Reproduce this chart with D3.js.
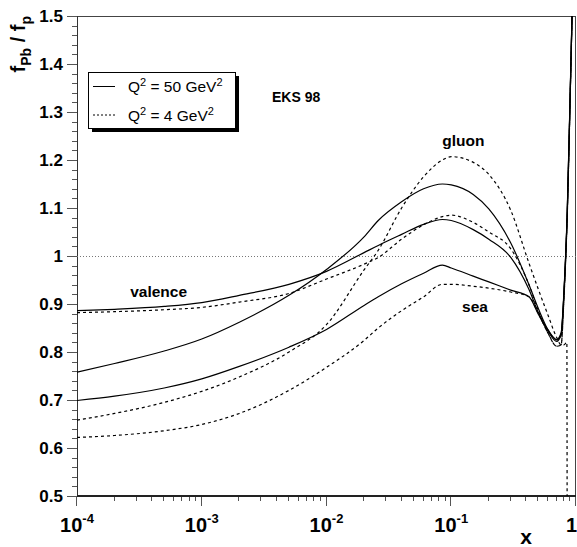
<!DOCTYPE html>
<html><head><meta charset="utf-8">
<script src="https://cdn.jsdelivr.net/npm/d3@7"></script>
<style>body{margin:0;background:#fff}svg{display:block}text{font-family:"Liberation Sans",Arial,Helvetica,sans-serif}</style>
</head><body>
<svg id="c" width="577" height="547"></svg>
<script>
// ---- data ----
const xGrid = [1e-4,2e-4,5e-4,1e-3,2e-3,5e-3,0.01,0.02,0.026,0.04,0.06,0.085,0.1,0.15,0.2,0.3,0.42,0.5,0.6,0.7,0.76,0.8,0.845,0.85,0.9,0.95];
const valenceQ50 = [0.886,0.889,0.895,0.903,0.918,0.941,0.968,1.007,1.022,1.045,1.066,1.076,1.074,1.055,1.035,0.997,0.93,0.882,0.845,0.826,0.84,0.925,1.07,1.09,1.35,1.61];
const valenceQ4  = [0.882,0.884,0.888,0.893,0.904,0.922,0.952,0.983,0.997,1.035,1.065,1.082,1.085,1.07,1.05,1.015,0.94,0.885,0.838,0.812,0.815,0.91,1.06,1.08,1.34,1.60];
const gluonQ50   = [0.758,0.776,0.802,0.827,0.862,0.918,0.972,1.04,1.074,1.113,1.14,1.15,1.148,1.128,1.098,1.027,0.94,0.89,0.845,0.825,0.835,0.92,1.065,1.085,1.345,1.605];
const gluonQ4    = [0.658,0.672,0.695,0.718,0.748,0.80,0.857,0.971,1.012,1.10,1.165,1.20,1.207,1.195,1.17,1.095,0.985,0.93,0.875,0.83,0.815,0.815,0.82,0.3,null,null];
const seaQ50     = [0.699,0.708,0.725,0.744,0.77,0.81,0.847,0.897,0.915,0.942,0.964,0.981,0.975,0.958,0.946,0.929,0.915,0.878,0.842,0.822,0.837,0.92,1.065,1.085,1.345,1.605];
const seaQ4      = [0.622,0.626,0.636,0.649,0.672,0.72,0.768,0.824,0.85,0.886,0.915,0.941,0.941,0.937,0.933,0.925,0.915,0.88,0.838,0.812,0.815,0.91,1.06,1.08,1.34,1.60];
const seriesList = [
  {name:"valence", q:50, v:valenceQ50}, {name:"valence", q:4, v:valenceQ4},
  {name:"gluon", q:50, v:gluonQ50}, {name:"gluon", q:4, v:gluonQ4},
  {name:"sea", q:50, v:seaQ50}, {name:"sea", q:4, v:seaQ4}
];
const yMajor = [0.5,0.6,0.7,0.8,0.9,1.0,1.1,1.2,1.3,1.4,1.5];
const yLabels = ["0.5","0.6","0.7","0.8","0.9","1","1.1","1.2","1.3","1.4","1.5"];
const xMajor = [1e-4,1e-3,1e-2,1e-1,1];
const xExp = ["-4","-3","-2","-1",""];
const legendItems = [{q:"50", dash:null},{q:"4", dash:"2,2"}];
const curveLabels = [{t:"gluon",x:0.0847,y:1.229},{t:"valence",x:2.67e-4,y:0.915},{t:"sea",x:0.122,y:0.884}];

// ---- layout ----
const L=77,R=576,T=16,B=496;
const svg = d3.select("#c");
const x = d3.scaleLog().domain([1e-4,1]).range([L,R]);
const y = d3.scaleLinear().domain([0.5,1.5]).range([B,T]);

svg.append("defs").append("clipPath").attr("id","clip")
  .append("rect").attr("x",L).attr("y",T).attr("width",R-L).attr("height",B-T);

// frame
svg.append("rect").attr("x",L+0.5).attr("y",T+0.5).attr("width",R-L-1).attr("height",B-T)
  .attr("fill","none").attr("stroke","#444").attr("stroke-width",1);

// ticks (drawn from the scales)
const yMinor = d3.range(0.5,1.5001,0.02).map(v=>+v.toFixed(2)).filter(v=>!yMajor.some(m=>Math.abs(m-v)<1e-6));
const xMinor = [];
for (let e=-4;e<0;e++) for (let k=2;k<=9;k++) xMinor.push(k*Math.pow(10,e));
const tg = svg.append("g").attr("stroke","#555").attr("stroke-width",1).attr("shape-rendering","crispEdges");
yMajor.forEach(v=>tg.append("line").attr("x1",L-10).attr("x2",L).attr("y1",Math.round(y(v))+0.5).attr("y2",Math.round(y(v))+0.5));
yMinor.forEach(v=>tg.append("line").attr("x1",L-5).attr("x2",L).attr("y1",Math.round(y(v))+0.5).attr("y2",Math.round(y(v))+0.5));
xMajor.forEach(v=>tg.append("line").attr("y1",B).attr("y2",B+10).attr("x1",Math.round(x(v))-0.5).attr("x2",Math.round(x(v))-0.5));
xMinor.forEach(v=>tg.append("line").attr("y1",B).attr("y2",B+5).attr("x1",Math.round(x(v))-0.5).attr("x2",Math.round(x(v))-0.5));
// axis lines
svg.append("line").attr("x1",L+0.5).attr("x2",L+0.5).attr("y1",T).attr("y2",B).attr("stroke","#333");
svg.append("line").attr("x1",L).attr("x2",R).attr("y1",B).attr("y2",B).attr("stroke","#222").attr("stroke-width",2);

// tick labels
yMajor.forEach((v,i)=>{
  svg.append("text").attr("x",L-14).attr("y",y(v)).attr("dy","0.36em").attr("text-anchor","end")
    .attr("font-size",17).attr("font-weight","bold").text(yLabels[i]);
});
xMajor.forEach((v,i)=>{
  const last = xExp[i]==="";
  const t = svg.append("text").attr("x",last?577:x(v)).attr("y",532).attr("text-anchor",last?"end":"middle")
    .attr("font-weight","bold").attr("font-size",20);
  t.append("tspan").text(last?"1":"10");
  if (!last) t.append("tspan").attr("font-size",13).attr("dy",-9).text(xExp[i]);
});

// reference line at 1
svg.append("line").attr("x1",L).attr("x2",R).attr("y1",Math.round(y(1))+0.5).attr("y2",Math.round(y(1))+0.5)
  .attr("stroke","#777").attr("stroke-dasharray","1,2");

// curves
const line = d3.line().defined(d=>d[1]!==null).x(d=>x(d[0])).y(d=>y(d[1])).curve(d3.curveMonotoneX);
const gc = svg.append("g").attr("clip-path","url(#clip)");
seriesList.forEach(s=>{
  gc.append("path").datum(xGrid.map((xv,i)=>[xv,s.v[i]]))
    .attr("d",line).attr("fill","none").attr("stroke","#000").attr("stroke-width",1.2)
    .attr("stroke-dasharray", s.q===4 ? "3,3" : null);
});

// curve labels
curveLabels.forEach(c=>{
  svg.append("text").attr("x",x(c.x)).attr("y",y(c.y)).attr("font-weight","bold")
    .attr("font-size",15.5).text(c.t);
});
svg.append("text").attr("x",272).attr("y",102).attr("font-weight","bold").attr("font-size",14).text("EKS 98");

// legend
const lg = svg.append("g");
lg.append("rect").attr("x",92).attr("y",76).attr("width",147).attr("height",56).attr("fill","#000");
lg.append("rect").attr("x",88.5).attr("y",72.5).attr("width",147).attr("height",56).attr("fill","#fff").attr("stroke","#000");
legendItems.forEach((it,i)=>{
  const yy = 86.5 + i*28.5;
  lg.append("line").attr("x1",93).attr("x2",115).attr("y1",yy).attr("y2",yy).attr("stroke","#000")
    .attr("stroke-width",1).attr("stroke-dasharray",it.dash);
  const t = lg.append("text").attr("x",128).attr("y",yy+5.5).attr("font-size",15.5);
  t.append("tspan").text("Q");
  t.append("tspan").attr("font-size",11).attr("dy",-6).text("2");
  t.append("tspan").attr("dy",6).text(" = "+it.q+" GeV");
  t.append("tspan").attr("font-size",11).attr("dy",-6).text("2");
});

// axis titles
const yt = svg.append("text").attr("transform","translate(25,16) rotate(-90)")
  .attr("text-anchor","end").attr("font-weight","bold").attr("font-size",20);
yt.append("tspan").text("f");
yt.append("tspan").attr("font-size",14).attr("dy",6).text("Pb");
yt.append("tspan").attr("dy",-6).text(" / f");
yt.append("tspan").attr("font-size",14).attr("dy",6).text("p");
svg.append("text").attr("x",526).attr("y",544).attr("text-anchor","middle")
  .attr("font-weight","bold").attr("font-size",21).text("x");
</script>
</body></html>
